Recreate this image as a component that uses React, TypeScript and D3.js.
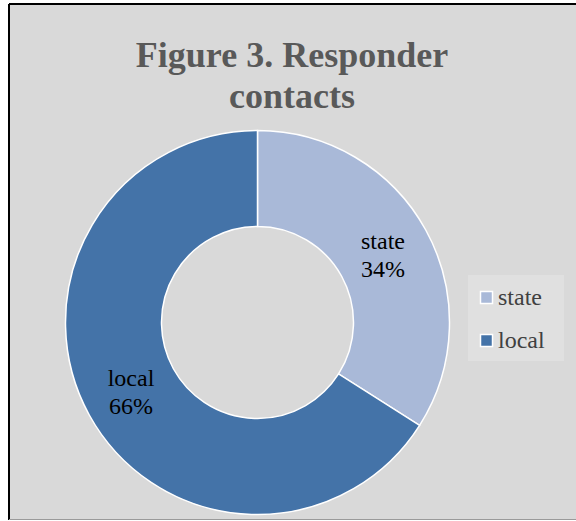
import React from "react";
import * as d3 from "d3";

const categories = ["state", "local"];
const values = [34, 66];
const labels = ["34%", "66%"];
const colors = ["#A9B9D8", "#4473A8"];
const titleLines = ["Figure 3. Responder", "contacts"];

export default function App() {
  const W = 576, H = 521;
  const cx = 257.5, cy = 322.5;
  const rOuter = 192, rInner = 96;
  const pie = d3.pie<number>().sort(null).value((d) => d);
  const arcs = pie(values);
  const arc = d3.arc<d3.PieArcDatum<number>>().innerRadius(rInner).outerRadius(rOuter);
  const labelPos = [
    [383, 249],
    [131, 386],
  ];
  const font = "'Liberation Serif', 'Times New Roman', serif";
  return (
    <svg width={W} height={H} style={{ position: "absolute", left: 0, top: 0 }}>
      <rect x={0} y={0} width={W} height={H} fill="#ffffff" />
      <rect x={9} y={5} width={W} height={514} fill="#D9D9D9" />
      <line x1={9} y1={4} x2={W} y2={4} stroke="#000" strokeWidth={2} />
      <line x1={9} y1={4} x2={9} y2={520} stroke="#000" strokeWidth={2} />
      <line x1={9} y1={519.5} x2={W} y2={519.5} stroke="#9a9a9a" strokeWidth={1} />
      {titleLines.map((t, i) => (
        <text
          key={t}
          x={292}
          y={67 + i * 41}
          textAnchor="middle"
          fontFamily={font}
          fontWeight="bold"
          fontSize={36}
          fill="#595959"
        >
          {t}
        </text>
      ))}
      <g transform={`translate(${cx},${cy})`}>
        {arcs.map((a, i) => (
          <path key={i} d={arc(a) || ""} fill={colors[i]} stroke="#fff" strokeWidth={1.5} />
        ))}
      </g>
      {categories.map((c, i) => (
        <text key={c} textAnchor="middle" fontFamily={font} fontSize={24} fill="#000">
          <tspan x={labelPos[i][0]} y={labelPos[i][1]}>{c}</tspan>
          <tspan x={labelPos[i][0]} y={labelPos[i][1] + 28}>{labels[i]}</tspan>
        </text>
      ))}
      <rect x={468} y={275} width={96} height={86} fill="#E0E0E0" />
      {categories.map((c, i) => (
        <g key={c}>
          <rect x={480.5} y={291.5 + i * 43} width={12} height={12} fill={colors[i]} stroke="#fff" strokeWidth={1.5} />
          <text x={498} y={305 + i * 43} fontFamily={font} fontSize={24} fill="#404040">
            {c}
          </text>
        </g>
      ))}
    </svg>
  );
}
